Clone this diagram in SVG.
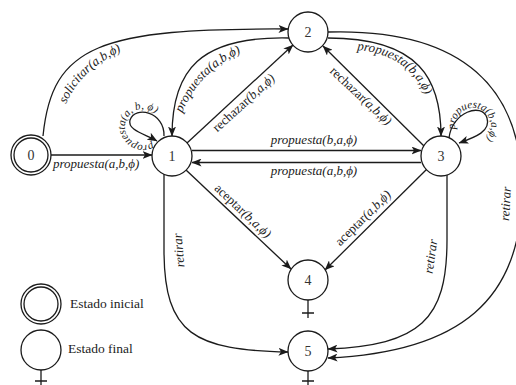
<svg xmlns="http://www.w3.org/2000/svg" width="516" height="385" viewBox="0 0 516 385">
<defs>
<style>
.e{fill:none;stroke:#1b1b1b;stroke-width:1.3;marker-end:url(#ah)}
.t{fill:none;stroke:#1b1b1b;stroke-width:1.3}
.n{fill:#fff;stroke:#1b1b1b;stroke-width:1.3}
.nl{font-family:"Liberation Serif","Times New Roman",serif;font-size:14px;fill:#333;text-anchor:middle}
.l{font-family:"Liberation Serif","Times New Roman",serif;font-size:13px;font-style:italic;fill:#222}
.ls{font-size:11px}
.r{font-style:normal}
.m{text-anchor:middle}
.lg{font-family:"Liberation Serif","Times New Roman",serif;font-size:13.5px;fill:#222}
</style>
<marker id="ah" viewBox="0 0 10 8" refX="9.5" refY="4" markerWidth="10" markerHeight="8" orient="auto" markerUnits="userSpaceOnUse"><path d="M0,0 L10,4 L0,8 L2.5,4 z" fill="#1b1b1b"/></marker>
<path id="p-sol" d="M 66 104 C 76 80, 100 55, 145 43"/>
<path id="p-21" d="M 182 113 C 194 85, 215 60, 256 47"/>
<path id="p-23" d="M 357 50 C 395 53, 420 72, 431 110"/>
<path id="p-l1" d="M 152 142.6 A 18 18 0 1 1 160.9 125.4"/>
<path id="p-l3" d="M 455.3 129.1 A 18 18 0 1 1 469.9 143.7"/>
</defs>
<rect width="516" height="385" fill="#fff"/>
<g id="connectors">
<path class="e" d="M 51 155 L 152 155"/>
<path class="e" d="M 43 136 C 52 45, 100 28, 288 29"/>
<path class="e" d="M 289 38 C 200 36, 172 70, 172 136"/>
<path class="e" d="M 164 136 C 165 112, 135 105, 130 120 C 127 130, 145 134, 157 141"/>
<path class="e" d="M 187 143 L 293 45"/>
<path class="e" d="M 424 146 L 323 46"/>
<path class="e" d="M 328 38 C 420 38, 441 80, 441 136"/>
<path class="e" d="M 449 138 C 452 112, 482 102, 487 118 C 491 131, 476 137, 459 143"/>
<path class="e" d="M 192 150.5 L 421 150.5"/>
<path class="e" d="M 421 162.5 L 192 162.5"/>
<path class="e" d="M 186 170 L 291 269"/>
<path class="e" d="M 427 169 L 325 270"/>
<path class="e" d="M 164 174 L 164 250 C 164 335, 195 350, 288 352"/>
<path class="e" d="M 447 175 L 447 240 C 447 320, 420 345, 328 349"/>
<path class="e" d="M 328 32 C 465 28, 522 90, 522 190 C 522 300, 460 352, 328 358"/>
<text class="l" x="53" y="168">propuesta(a,b,ϕ)</text>
<text class="l"><textPath href="#p-sol">solicitar(a,b,ϕ)</textPath></text>
<text class="l"><textPath href="#p-21">propuesta(a,b,ϕ)</textPath></text>
<text class="l"><textPath href="#p-23">propuesta(b,a,ϕ)</textPath></text>
<text class="l ls"><textPath href="#p-l1">propuesta(a, b, ϕ)</textPath></text>
<text class="l ls"><textPath href="#p-l3">propuesta(b,a,ϕ)</textPath></text>
<text class="l m" x="314" y="144">propuesta(b,a,ϕ)</text>
<text class="l m" x="314" y="175">propuesta(a,b,ϕ)</text>
<text class="l m" transform="translate(246.5,106) rotate(-42.4)"><tspan class="r">rechazar</tspan>(b,a,ϕ)</text>
<text class="l m" transform="translate(358,99) rotate(43)"><tspan class="r">rechazar</tspan>(a,b,ϕ)</text>
<text class="l m" transform="translate(240,214) rotate(43.3)"><tspan class="r">aceptar</tspan>(b,a,ϕ)</text>
<text class="l m" transform="translate(366,221) rotate(-44.7)"><tspan class="r">aceptar</tspan>(a,b,ϕ)</text>
<text class="l m" transform="translate(183,250) rotate(-95)">retirar</text>
<text class="l m" transform="translate(435,257) rotate(-82)">retirar</text>
<text class="l m" transform="translate(510,204) rotate(-87)">retirar</text>
</g>
<g id="node0"><circle class="n" cx="31" cy="155" r="20"/><circle class="n" cx="31" cy="155" r="17"/><text class="nl" x="31" y="160">0</text></g>
<g id="node1"><circle class="n" cx="172" cy="156" r="20"/><text class="nl" x="172" y="161">1</text></g>
<g id="node2"><circle class="n" cx="308" cy="32" r="20"/><text class="nl" x="308" y="37">2</text></g>
<g id="node3"><circle class="n" cx="441" cy="156" r="20"/><text class="nl" x="441" y="161">3</text></g>
<g id="node4"><circle class="n" cx="308" cy="280" r="20"/><text class="nl" x="308" y="285">4</text><path class="t" d="M 308 300 L 308 318 M 302 313 L 314 313"/></g>
<g id="node5"><circle class="n" cx="308" cy="351" r="20"/><text class="nl" x="308" y="356">5</text><path class="t" d="M 308 371 L 308 385 M 302 381 L 314 381"/></g>
<g id="legend">
<circle class="n" cx="41" cy="304" r="20"/><circle class="n" cx="41" cy="304" r="17"/>
<text class="lg" x="70" y="308">Estado inicial</text>
<circle class="n" cx="41" cy="350" r="20"/>
<path class="t" d="M 41 370 L 41 385 M 35 381 L 47 381"/>
<text class="lg" x="68" y="353">Estado final</text>
</g>
</svg>
